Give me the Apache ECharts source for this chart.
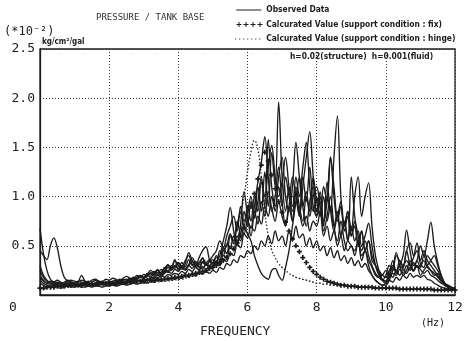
<!DOCTYPE html>
<html>
<head>
<meta charset="utf-8">
<script src="https://cdn.jsdelivr.net/npm/echarts@6/dist/echarts.min.js"></script>
<style>
  html, body { margin: 0; padding: 0; background: #fff; }
  #chart { width: 469px; height: 341px; }
</style>
</head>
<body>
<div id="chart"></div>
<script>
// Frequency sampling grid (Hz), 0.1 Hz steps from 0 to 12
const freq = Array.from({ length: 121 }, (_, i) => +(i * 0.1).toFixed(1));

const xTicks = [0, 2, 4, 6, 8, 10, 12];
const yTicks = [0, 0.5, 1.0, 1.5, 2.0, 2.5];

// Observed transfer functions (x10^-2 kg/cm2/gal), one row per Hz
const obs1 = [
  0.68,0.42,0.25,0.16,0.13,0.12,0.11,0.11,0.12,0.11,
  0.10,0.11,0.12,0.11,0.10,0.11,0.12,0.12,0.11,0.12,
  0.13,0.12,0.14,0.15,0.13,0.14,0.16,0.15,0.17,0.19,
  0.18,0.22,0.20,0.24,0.21,0.26,0.23,0.28,0.25,0.30,
  0.27,0.33,0.29,0.36,0.30,0.34,0.31,0.38,0.33,0.36,
  0.32,0.40,0.35,0.48,0.42,0.60,0.52,0.75,0.62,0.85,
  0.70,0.95,0.78,1.10,0.85,1.25,0.90,1.45,1.10,1.96,
  1.20,0.85,1.10,0.75,1.05,0.80,1.20,0.95,1.30,0.90,
  0.80,1.00,0.70,1.15,0.85,1.40,1.82,1.00,0.70,0.85,
  0.60,0.75,0.50,0.65,0.45,0.55,0.35,0.30,0.25,0.20,
  0.18,0.25,0.30,0.22,0.35,0.28,0.45,0.30,0.25,0.35,
  0.28,0.40,0.30,0.25,0.20,0.22,0.15,0.12,0.10,0.08,
  0.07];
const obs2 = [
  0.45,0.40,0.36,0.50,0.58,0.48,0.30,0.18,0.14,0.12,
  0.11,0.13,0.20,0.14,0.11,0.10,0.12,0.13,0.11,0.12,
  0.14,0.12,0.13,0.16,0.14,0.13,0.15,0.18,0.16,0.14,
  0.17,0.20,0.18,0.22,0.26,0.20,0.24,0.30,0.27,0.35,
  0.30,0.26,0.32,0.43,0.35,0.30,0.38,0.45,0.49,0.36,
  0.30,0.34,0.40,0.55,0.70,0.89,0.65,0.50,0.72,1.05,
  0.80,0.60,0.90,1.15,1.35,1.61,1.20,0.85,1.00,1.30,
  0.95,0.70,0.90,1.20,1.00,0.80,1.10,1.40,1.66,1.20,
  0.85,1.05,0.75,0.95,1.40,1.10,0.80,0.95,0.70,0.85,
  0.65,1.00,1.20,0.80,1.00,1.14,0.70,0.40,0.25,0.15,
  0.12,0.20,0.35,0.25,0.30,0.40,0.66,0.45,0.30,0.35,
  0.50,0.40,0.55,0.74,0.50,0.33,0.20,0.12,0.09,0.07,
  0.06];
const obs3 = [
  0.30,0.20,0.15,0.12,0.10,0.09,0.10,0.11,0.10,0.09,
  0.10,0.09,0.10,0.11,0.12,0.10,0.09,0.10,0.11,0.10,
  0.11,0.12,0.10,0.12,0.13,0.12,0.14,0.13,0.15,0.14,
  0.16,0.15,0.18,0.17,0.20,0.19,0.22,0.24,0.22,0.26,
  0.24,0.28,0.26,0.30,0.27,0.32,0.29,0.27,0.31,0.28,
  0.30,0.35,0.32,0.40,0.38,0.50,0.45,0.60,0.55,0.70,
  0.62,0.55,0.40,0.30,0.22,0.18,0.16,0.25,0.27,0.20,
  0.15,0.28,0.45,0.70,0.95,1.20,0.90,0.70,0.95,1.10,
  0.80,0.95,0.65,0.80,1.00,0.70,0.55,0.75,0.55,0.45,
  0.50,0.40,0.55,0.35,0.45,0.30,0.20,0.15,0.12,0.10,
  0.10,0.15,0.25,0.43,0.30,0.20,0.25,0.35,0.25,0.30,
  0.20,0.25,0.30,0.35,0.40,0.30,0.20,0.12,0.08,0.06,
  0.05];
const obs4 = [
  0.20,0.15,0.12,0.14,0.13,0.11,0.12,0.10,0.11,0.13,
  0.12,0.10,0.11,0.13,0.12,0.11,0.12,0.14,0.12,0.13,
  0.12,0.13,0.12,0.14,0.16,0.15,0.17,0.15,0.18,0.20,
  0.18,0.21,0.25,0.22,0.20,0.23,0.27,0.31,0.26,0.29,
  0.33,0.28,0.25,0.30,0.34,0.29,0.26,0.33,0.30,0.35,
  0.40,0.45,0.55,0.48,0.60,0.70,0.80,0.65,0.90,0.75,
  0.85,1.00,0.80,0.95,1.20,0.90,1.58,1.10,0.90,1.20,
  1.40,1.00,0.85,1.10,1.55,1.20,0.90,1.05,0.80,1.00,
  1.10,0.90,0.75,1.00,0.85,0.65,0.80,0.60,0.75,0.55,
  0.70,0.55,0.65,0.50,0.60,0.73,0.50,0.30,0.20,0.15,
  0.20,0.30,0.25,0.40,0.35,0.30,0.45,0.53,0.40,0.53,
  0.35,0.45,0.35,0.30,0.25,0.20,0.15,0.10,0.08,0.06,
  0.05];
const obs5 = [
  0.15,0.12,0.10,0.09,0.10,0.11,0.09,0.10,0.12,0.10,
  0.09,0.10,0.11,0.10,0.09,0.10,0.11,0.10,0.12,0.11,
  0.10,0.11,0.10,0.12,0.11,0.12,0.13,0.12,0.13,0.15,
  0.14,0.16,0.15,0.18,0.17,0.20,0.18,0.21,0.20,0.22,
  0.21,0.24,0.22,0.26,0.24,0.28,0.25,0.29,0.26,0.30,
  0.28,0.33,0.30,0.37,0.34,0.42,0.40,0.52,0.48,0.62,
  0.58,0.70,0.65,0.80,0.72,0.90,0.80,1.00,0.85,1.10,
  0.90,1.20,1.00,0.85,1.10,0.90,0.75,1.00,0.85,1.20,
  0.95,0.80,1.00,0.75,0.90,0.70,0.85,0.60,0.75,0.55,
  1.20,0.80,0.60,0.45,0.55,0.40,0.30,0.22,0.18,0.15,
  0.14,0.18,0.22,0.20,0.26,0.22,0.30,0.25,0.33,0.28,
  0.30,0.35,0.28,0.25,0.22,0.18,0.14,0.11,0.09,0.07,
  0.06];
const obs6 = [
  0.25,0.18,0.14,0.12,0.13,0.15,0.13,0.12,0.14,0.15,
  0.14,0.13,0.15,0.14,0.13,0.15,0.16,0.14,0.13,0.16,
  0.15,0.17,0.16,0.14,0.17,0.19,0.17,0.16,0.20,0.18,
  0.21,0.19,0.23,0.20,0.25,0.22,0.28,0.24,0.30,0.27,
  0.32,0.29,0.35,0.40,0.31,0.28,0.33,0.37,0.30,0.34,
  0.36,0.30,0.45,0.40,0.52,0.47,0.60,0.55,0.68,0.62,
  0.75,0.68,0.85,0.72,0.95,0.80,1.05,0.88,0.75,0.95,
  0.80,0.70,0.90,0.75,0.95,0.85,0.70,0.80,0.65,0.75,
  0.70,0.85,0.60,0.70,0.55,0.65,0.50,0.60,0.45,0.55,
  0.50,0.45,0.55,0.40,0.45,0.35,0.28,0.20,0.18,0.20,
  0.25,0.20,0.28,0.24,0.30,0.26,0.22,0.28,0.24,0.30,
  0.26,0.22,0.25,0.20,0.18,0.15,0.12,0.10,0.08,0.07,
  0.06];
const obs7 = [
  0.12,0.10,0.08,0.08,0.09,0.08,0.07,0.08,0.09,0.08,
  0.08,0.09,0.08,0.08,0.09,0.08,0.09,0.09,0.08,0.09,
  0.09,0.10,0.09,0.10,0.11,0.10,0.11,0.12,0.11,0.12,
  0.13,0.12,0.14,0.13,0.15,0.14,0.16,0.15,0.17,0.16,
  0.18,0.17,0.20,0.18,0.22,0.19,0.23,0.21,0.24,0.22,
  0.25,0.23,0.28,0.26,0.32,0.30,0.36,0.33,0.40,0.38,
  0.45,0.42,0.50,0.46,0.55,0.50,0.60,0.52,0.65,0.55,
  0.60,0.50,0.65,0.55,0.70,0.58,0.62,0.50,0.58,0.48,
  0.55,0.45,0.50,0.40,0.48,0.38,0.45,0.35,0.40,0.32,
  0.38,0.30,0.35,0.28,0.32,0.25,0.20,0.15,0.12,0.10,
  0.12,0.15,0.13,0.18,0.15,0.20,0.17,0.22,0.18,0.20,
  0.18,0.20,0.16,0.15,0.12,0.10,0.08,0.07,0.06,0.05,
  0.05];
const obs8 = [
  0.18,0.14,0.12,0.11,0.12,0.13,0.12,0.13,0.15,0.13,
  0.12,0.14,0.13,0.12,0.14,0.13,0.15,0.13,0.14,0.12,
  0.13,0.14,0.15,0.13,0.15,0.16,0.14,0.17,0.16,0.18,
  0.17,0.19,0.22,0.19,0.23,0.21,0.25,0.23,0.27,0.36,
  0.25,0.30,0.27,0.31,0.38,0.32,0.28,0.34,0.32,0.30,
  0.33,0.38,0.36,0.45,0.50,0.62,0.55,0.70,0.85,0.70,
  0.90,0.75,1.00,0.85,1.15,1.00,1.30,1.52,1.20,1.00,
  1.15,1.40,1.10,0.90,1.20,1.00,1.30,1.55,1.10,0.85,
  1.00,0.80,1.10,0.95,1.40,1.00,0.75,0.90,0.65,0.80,
  0.60,0.70,0.50,0.65,0.45,0.55,0.40,0.30,0.22,0.16,
  0.14,0.22,0.18,0.25,0.20,0.28,0.35,0.30,0.38,0.45,
  0.32,0.28,0.40,0.35,0.30,0.25,0.18,0.12,0.09,0.07,
  0.06];

// Calculated responses
const calcFix = [
  0.07,0.07,0.08,0.08,0.08,0.09,0.09,0.09,0.10,0.10,
  0.10,0.10,0.10,0.11,0.11,0.11,0.11,0.11,0.12,0.12,
  0.12,0.12,0.12,0.13,0.13,0.13,0.13,0.14,0.14,0.14,
  0.14,0.15,0.15,0.15,0.16,0.16,0.16,0.17,0.17,0.18,
  0.18,0.19,0.20,0.20,0.21,0.22,0.23,0.24,0.25,0.27,
  0.28,0.30,0.32,0.35,0.38,0.42,0.47,0.53,0.60,0.68,
  0.78,0.90,1.03,1.18,1.32,1.45,1.36,1.22,1.08,0.95,
  0.84,0.74,0.65,0.57,0.50,0.44,0.38,0.33,0.28,0.24,
  0.21,0.18,0.16,0.14,0.13,0.12,0.11,0.10,0.10,0.09,
  0.09,0.09,0.08,0.08,0.08,0.08,0.08,0.07,0.07,0.07,
  0.07,0.07,0.07,0.07,0.06,0.06,0.06,0.06,0.06,0.06,
  0.06,0.06,0.06,0.06,0.05,0.05,0.05,0.05,0.05,0.05,
  0.05];
const calcHinge = [
  0.06,0.06,0.07,0.07,0.07,0.08,0.08,0.08,0.08,0.09,
  0.09,0.09,0.09,0.09,0.10,0.10,0.10,0.10,0.10,0.10,
  0.10,0.10,0.11,0.11,0.11,0.11,0.11,0.12,0.12,0.12,
  0.12,0.12,0.13,0.13,0.13,0.14,0.14,0.14,0.15,0.15,
  0.16,0.16,0.17,0.18,0.19,0.20,0.21,0.22,0.24,0.26,
  0.28,0.31,0.34,0.38,0.43,0.50,0.58,0.70,0.84,1.00,
  1.25,1.45,1.57,1.48,1.20,0.85,0.60,0.46,0.38,0.32,
  0.28,0.25,0.22,0.20,0.18,0.17,0.16,0.15,0.14,0.13,
  0.12,0.12,0.11,0.11,0.10,0.10,0.10,0.09,0.09,0.09,
  0.08,0.08,0.08,0.08,0.08,0.07,0.07,0.07,0.07,0.07,
  0.07,0.07,0.06,0.06,0.06,0.06,0.06,0.06,0.06,0.06,
  0.06,0.05,0.05,0.05,0.05,0.05,0.05,0.05,0.05,0.05,
  0.05];

const observed = [obs1, obs2, obs3, obs4, obs5, obs6, obs7, obs8];

const OBS = 'Observed Data';
const FIX = 'Calcurated Value (support condition : fix)';
const HINGE = 'Calcurated Value (support condition : hinge)';

const ink = '#1c1c1c';
const pair = arr => arr.map((v, i) => [freq[i], v]);

// Legend sample shapes, each laid out in a 28 x 6 box
// (hair-thin corner specks keep the box size fixed when the path is scaled)
const box = 'M0,0H0.05V0.05H0Z M27.95,5.95H28V6H27.95Z ';
const lineIcon = 'path://' + box + 'M2,2.6H27V3.5H2Z';
const crossAt = cx => `M${cx - 0.5},0.5H${cx + 0.5}V2.5H${cx + 2.5}V3.5H${cx + 0.5}V5.5H${cx - 0.5}V3.5H${cx - 2.5}V2.5H${cx - 0.5}Z `;
const fixIcon = 'path://' + box + [5, 12, 19, 26].map(crossAt).join('');
const dotAt = cx => `M${cx},2.5H${cx + 1}V3.5H${cx}Z `;
const hingeIcon = 'path://' + box + [1, 5, 9, 13, 17, 21, 25].map(dotAt).join('');
const crossSymbol = 'path://M1,0H2V1H3V2H2V3H1V2H0V1H1Z';

const series = observed.map(arr => ({
  name: OBS,
  type: 'line',
  data: pair(arr),
  smooth: 0.35,
  symbol: 'none',
  lineStyle: { color: ink, width: 1.35 },
  itemStyle: { color: ink },
  z: 2
}));

series.push({
  name: FIX,
  type: 'line',
  data: pair(calcFix),
  smooth: true,
  symbol: crossSymbol,
  symbolSize: 5,
  showAllSymbol: true,
  lineStyle: { width: 0, opacity: 0 },
  itemStyle: { color: ink },
  z: 3
});

series.push({
  name: HINGE,
  type: 'line',
  data: pair(calcHinge),
  smooth: true,
  symbol: 'none',
  lineStyle: { color: ink, width: 1.3, type: [1.5, 2] },
  itemStyle: { color: ink },
  z: 3
});

const chart = echarts.init(document.getElementById('chart'), null, { renderer: 'canvas' });

chart.setOption({
  animation: false,
  backgroundColor: '#fff',
  grid: {
    left: 40, right: 14, top: 49, bottom: 46,
    show: true, borderColor: ink, borderWidth: 1.3
  },
  legend: {
    orient: 'vertical',
    left: 229, top: 1,
    itemWidth: 30, itemHeight: 6, itemGap: 6.5,
    textStyle: {
      fontFamily: 'DejaVu Sans Condensed', fontWeight: 'bold',
      fontSize: 8.4, color: ink, padding: [0, 0, 0, -2]
    },
    data: [
      { name: OBS, icon: lineIcon },
      { name: FIX, icon: fixIcon },
      { name: HINGE, icon: hingeIcon }
    ]
  },
  xAxis: {
    type: 'value',
    min: xTicks[0], max: xTicks[xTicks.length - 1], interval: 2,
    axisLine: { lineStyle: { color: ink, width: 1.3 } },
    axisTick: { show: false },
    splitLine: { show: true, lineStyle: { color: '#333', width: 1, type: [1, 2] } },
    axisLabel: {
      margin: 6,
      fontFamily: 'DejaVu Sans Mono', fontSize: 13, color: '#222',
      formatter: v => v === 0 ? '{z|0}' : String(v),
      rich: { z: { fontFamily: 'DejaVu Sans Mono', fontSize: 13, color: '#222', padding: [0, 54, 0, 0] } }
    }
  },
  yAxis: {
    type: 'value',
    min: yTicks[0], max: yTicks[yTicks.length - 1], interval: 0.5,
    axisLine: { lineStyle: { color: ink, width: 1.3 } },
    axisTick: { show: false },
    splitLine: { show: true, lineStyle: { color: '#333', width: 1, type: [1, 2] } },
    axisLabel: {
      margin: 5,
      fontFamily: 'DejaVu Sans Mono', fontSize: 13, color: '#222',
      formatter: v => v === 0 ? '' : v.toFixed(1)
    }
  },
  graphic: [
    { type: 'text', left: 96, top: 13,
      style: { text: 'PRESSURE / TANK BASE', font: '9px "DejaVu Sans Mono"', fill: '#333' } },
    { type: 'text', left: 4, top: 26,
      style: { text: '(*10⁻²)', font: '12px "DejaVu Sans Mono"', fill: '#222' } },
    { type: 'text', left: 42, top: 38,
      style: { text: 'kg/cm²/gal', font: 'bold 8px "DejaVu Sans Condensed"', fill: ink } },
    { type: 'text', left: 290, top: 53,
      style: { text: 'h=0.02(structure)  h=0.001(fluid)', font: 'bold 8.4px "DejaVu Sans Condensed"', fill: ink } },
    { type: 'text', left: 200, top: 325,
      style: { text: 'FREQUENCY', font: '13px "DejaVu Sans Mono"', fill: '#222' } },
    { type: 'text', left: 421, top: 318,
      style: { text: '(Hz)', font: '10px "DejaVu Sans Mono"', fill: '#222' } }
  ],
  series: series
});
</script>
</body>
</html>
